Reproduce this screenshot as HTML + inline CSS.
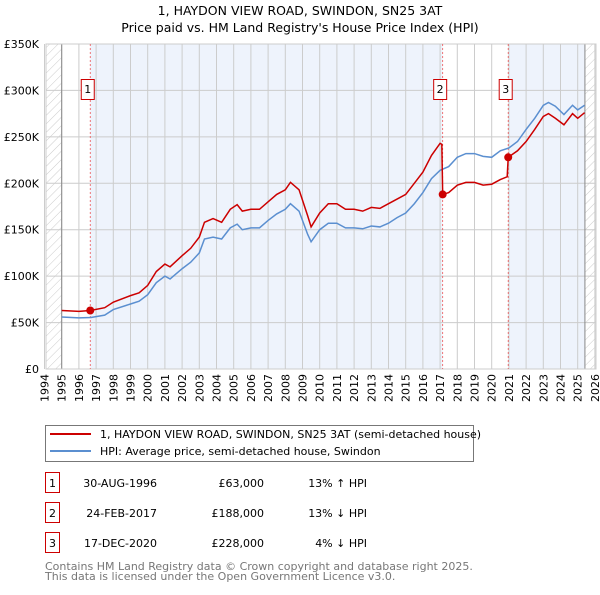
<!DOCTYPE html>
<html><head><meta charset="utf-8"><style>
body{margin:0;background:#fff;font-family:"Liberation Sans","DejaVu Sans",sans-serif;}
svg text{font-family:"DejaVu Sans","Liberation Sans",sans-serif;}
</style></head><body>
<svg id="c" width="600" height="590" xmlns="http://www.w3.org/2000/svg">
<defs><pattern id="h" width="6" height="6" patternUnits="userSpaceOnUse" patternTransform="rotate(45)"><line x1="0" y1="0" x2="0" y2="6" stroke="#ccc" stroke-width="1"/></pattern></defs>
<text x="300" y="15" text-anchor="middle" font-size="12.5">1, HAYDON VIEW ROAD, SWINDON, SN25 3AT</text>
<text x="300" y="32" text-anchor="middle" font-size="12.5">Price paid vs. HM Land Registry's House Price Index (HPI)</text>
<g id="plot"></g>
<g>
<rect x="45.5" y="425.5" width="428" height="36" fill="#fff" stroke="#777"/>
<line x1="50" y1="434" x2="91" y2="434" stroke="#cc0000" stroke-width="2"/>
<text x="100" y="438" font-size="11">1, HAYDON VIEW ROAD, SWINDON, SN25 3AT (semi-detached house)</text>
<line x1="50" y1="451" x2="91" y2="451" stroke="#5b8fd0" stroke-width="2"/>
<text x="100" y="455" font-size="11">HPI: Average price, semi-detached house, Swindon</text>
</g>
<g id="tbl" font-size="11"></g>
<text x="45" y="570" font-size="11" fill="#777">Contains HM Land Registry data © Crown copyright and database right 2025.</text>
<text x="45" y="580" font-size="11" fill="#777">This data is licensed under the Open Government Licence v3.0.</text>
</svg>
<script>
const hpiYears=[1995,1996,1996.7,1997.5,1998,1999,1999.5,2000,2000.5,2001,2001.3,2002,2002.5,2003,2003.3,2003.8,2004.3,2004.8,2005.2,2005.5,2006,2006.5,2007,2007.5,2008,2008.3,2008.8,2009.3,2009.5,2010,2010.5,2011,2011.5,2012,2012.5,2013,2013.5,2014,2014.5,2015,2015.5,2016,2016.5,2017,2017.5,2018,2018.5,2019,2019.5,2020,2020.5,2021,2021.5,2022,2022.5,2023,2023.3,2023.7,2024.2,2024.7,2025,2025.4];
const hpiValues=[56,55,55.5,58,64,70,73,80,93,100,97,108,115,125,140,142,140,152,156,150,152,152,160,167,172,178,170,145,137,150,157,157,152,152,151,154,153,157,163,168,178,190,205,214,218,228,232,232,229,228,235,238,245,258,270,284,287,283,274,284,279,284];
const ppYears=[1995,1996,1996.66,1997.5,1998,1999,1999.5,2000,2000.5,2001,2001.3,2002,2002.5,2003,2003.3,2003.8,2004.3,2004.8,2005.2,2005.5,2006,2006.5,2007,2007.5,2008,2008.3,2008.8,2009.3,2009.5,2010,2010.5,2011,2011.5,2012,2012.5,2013,2013.5,2014,2014.5,2015,2015.5,2016,2016.5,2017.0,2017.1,2017.15,2017.5,2018,2018.5,2019,2019.5,2020,2020.5,2020.9,2020.96,2021.5,2022,2022.5,2023,2023.3,2023.7,2024.2,2024.7,2025,2025.4];
const ppValues=[63,62,63,66,72,79,82,90,105,113,110,122,130,142,158,162,158,172,177,170,172,172,180,188,193,201,193,165,153,168,178,178,172,172,170,174,173,178,183,188,200,212,230,243,242,188,190,198,201,201,198,199,204,207,228,235,245,258,272,275,270,263,275,270,276];
const saleYears=[1996.66,2017.15,2020.96];
const saleValues=[63,188,228];
const saleDates=["30-AUG-1996","24-FEB-2017","17-DEC-2020"];
const salePrices=["£63,000","£188,000","£228,000"];
const saleDiffs=["13% ↑ HPI","13% ↓ HPI","4% ↓ HPI"];
const yTicks=[0,50,100,150,200,250,300,350];
const yLabels=["£0","£50K","£100K","£150K","£200K","£250K","£300K","£350K"];
const xTicks=[1994,1995,1996,1997,1998,1999,2000,2001,2002,2003,2004,2005,2006,2007,2008,2009,2010,2011,2012,2013,2014,2015,2016,2017,2018,2019,2020,2021,2022,2023,2024,2025,2026];

const NS="http://www.w3.org/2000/svg";
const L=46,R=596,T=44,B=369,END=2025.42;
const x=y=>44.5+(y-1994)*17.2;
const yv=v=>B-v*(B-T)/350;
const g=document.getElementById('plot');
function el(t,a,p){const e=document.createElementNS(NS,t);for(const k in a)e.setAttribute(k,a[k]);(p||g).appendChild(e);return e;}
el('rect',{x:L,y:T,width:R-L,height:B-T,fill:'#fff'});
let r=el('rect',{x:x(saleYears[0]),y:T,width:x(saleYears[1])-x(saleYears[0]),height:B-T,fill:'#eef3fc'});

r=el('rect',{x:x(saleYears[2]),y:T,width:x(END)-x(saleYears[2]),height:B-T,fill:'#eef3fc'});

el('rect',{x:L,y:T,width:x(1995)-L,height:B-T,fill:'url(#h)'});
el('rect',{x:x(END),y:T,width:R-x(END),height:B-T,fill:'url(#h)'});
xTicks.forEach(t=>{el('line',{x1:x(t),x2:x(t),y1:T,y2:B,stroke:'#ccc','stroke-width':1});
 const tx=el('text',{x:0,y:0,'font-size':11,'text-anchor':'end',transform:`translate(${x(t)+4},${B+5}) rotate(-90)`});
 tx.textContent=t;
 
 });
yTicks.forEach((t,i)=>{el('line',{x1:L,x2:R,y1:yv(t),y2:yv(t),stroke:'#ccc','stroke-width':1});
 const tx=el('text',{x:L-7,y:yv(t)+4,'font-size':11,'text-anchor':'end'});
 tx.textContent=yLabels[i];
 
 });
el('line',{x1:x(1995),x2:x(1995),y1:T,y2:B,stroke:'#888'});
el('line',{x1:x(END),x2:x(END),y1:T,y2:B,stroke:'#888'});
el('rect',{x:L,y:T,width:R-L,height:B-T,fill:'none',stroke:'#ccc'});
saleYears.forEach(s=>el('line',{x1:x(s),x2:x(s),y1:T,y2:B,stroke:'#e55','stroke-dasharray':'2,2','stroke-width':0.8}));
let p=el('polyline',{points:hpiYears.map((a,i)=>x(a)+','+yv(hpiValues[i])).join(' '),fill:'none',stroke:'#5b8fd0','stroke-width':1.5});

p=el('polyline',{points:ppYears.map((a,i)=>x(a)+','+yv(ppValues[i])).join(' '),fill:'none',stroke:'#cc0000','stroke-width':1.5});

saleYears.forEach((s,i)=>{const c=el('circle',{cx:x(s),cy:yv(saleValues[i]),r:4,fill:'#cc0000'});
 
 
 const bx=x(s)-2.5;
 el('rect',{x:bx-6.5,y:79.5,width:13,height:20,fill:'#fff',stroke:'#cc0000'});
 const t=el('text',{x:bx,y:93,'font-size':11,'text-anchor':'middle'});t.textContent=i+1;
 
 });
const tb=document.getElementById('tbl');
saleDates.forEach((d,i)=>{const yy=487+i*30;
 const row=el('g',{},tb);
 
 
 el('rect',{x:45.5,y:yy-14.5,width:14,height:20,fill:'#fff',stroke:'#cc0000'},row);
 el('text',{x:52.5,y:yy,'text-anchor':'middle'},row).textContent=i+1;
 el('text',{x:157,y:yy,'text-anchor':'end'},row).textContent=d;
 el('text',{x:264,y:yy,'text-anchor':'end'},row).textContent=salePrices[i];
 el('text',{x:367,y:yy,'text-anchor':'end'},row).textContent=saleDiffs[i];});
</script>
</body></html>
